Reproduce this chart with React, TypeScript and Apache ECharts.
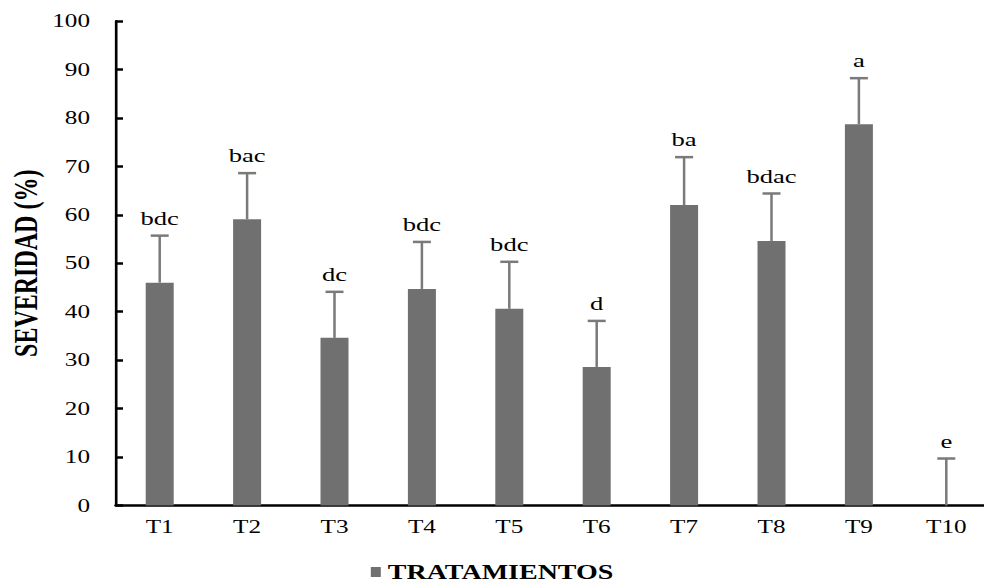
import React, { useEffect, useRef } from 'react';
import * as echarts from 'echarts';

// ---- data ----
const categories = ['T1', 'T2', 'T3', 'T4', 'T5', 'T6', 'T7', 'T8', 'T9', 'T10'];
const severity = [46.0, 59.1, 34.6, 44.7, 40.6, 28.6, 62.0, 54.6, 78.7, 0];
const errorValues = [9.7, 9.5, 9.5, 9.7, 9.7, 9.5, 9.9, 9.8, 9.5, 9.7];
const letters = ['bdc', 'bac', 'dc', 'bdc', 'bdc', 'd', 'ba', 'bdac', 'a', 'e'];
const yMin = 0;
const yMax = 100;
const yInterval = 10;
const seriesName = 'TRATAMIENTOS';
const yTitle = 'SEVERIDAD (%)';

// ---- layout (the reference is stretched horizontally) ----
const PAGE_W = 984;
const PAGE_H = 584;
const STRETCH = 1.4;
const INNER_W = PAGE_W / STRETCH;
const sx = (v: number) => v / STRETCH;

const BAR_COLOR = '#707070';
const ERR_COLOR = '#7a7a7a';
const FONT = '"Liberation Serif", "Times New Roman", serif';

export default function App() {
  const ref = useRef<HTMLDivElement>(null);

  useEffect(() => {
    if (!ref.current) return;
    const chart = echarts.init(ref.current, null, { renderer: 'svg' });
    const capHalf = sx(18) / 2;

    const option: any = {
      animation: false,
      backgroundColor: '#ffffff',
      grid: {
        left: sx(116),
        top: 21,
        width: sx(874),
        height: 484.5,
        containLabel: false,
        outerBoundsMode: 'none',
      },
      legend: {
        data: [seriesName],
        left: 'center',
        top: 562,
        padding: 0,
        icon: 'rect',
        itemWidth: sx(10),
        itemHeight: 10,
        itemGap: 10,
        textStyle: {
          fontFamily: FONT,
          fontWeight: 'bold',
          fontSize: 20,
          lineHeight: 18,
          color: '#000',
        },
      },
      xAxis: {
        type: 'category',
        data: categories,
        axisLine: { show: true, lineStyle: { color: '#000', width: 2.5 } },
        axisTick: { show: false },
        axisLabel: {
          fontFamily: FONT,
          fontSize: 18,
          color: '#000',
          margin: 12,
        },
        splitLine: { show: false },
      },
      yAxis: {
        type: 'value',
        min: yMin,
        max: yMax,
        interval: yInterval,
        name: yTitle,
        nameLocation: 'middle',
        nameRotate: 90,
        nameGap: 52.5,
        nameMoveOverlap: false,
        nameTextStyle: {
          fontFamily: FONT,
          fontWeight: 'bold',
          fontSize: 24,
          color: '#000',
        },
        axisLine: { show: true, lineStyle: { color: '#000', width: 1.9 } },
        axisTick: {
          show: true,
          inside: true,
          length: sx(7),
          lineStyle: { color: '#000', width: 2.5 },
        },
        axisLabel: {
          fontFamily: FONT,
          fontSize: 18,
          color: '#000',
          margin: sx(26),
        },
        splitLine: { show: false },
      },
      series: [
        {
          name: seriesName,
          type: 'bar',
          data: severity,
          barWidth: sx(28),
          itemStyle: { color: BAR_COLOR },
        },
        {
          name: 'error',
          type: 'custom',
          z: 5,
          data: categories.map((_, i) => [i, severity[i], severity[i] + errorValues[i]]),
          renderItem: (params: any, api: any) => {
            const i = api.value(0);
            const base = api.coord([i, api.value(1)]);
            const top = api.coord([i, api.value(2)]);
            return {
              type: 'group',
              children: [
                {
                  type: 'line',
                  shape: { x1: top[0], y1: base[1], x2: top[0], y2: top[1] },
                  style: { stroke: ERR_COLOR, lineWidth: 1.8 },
                },
                {
                  type: 'line',
                  shape: { x1: top[0] - capHalf, y1: top[1], x2: top[0] + capHalf, y2: top[1] },
                  style: { stroke: ERR_COLOR, lineWidth: 2.5 },
                },
                {
                  type: 'text',
                  x: top[0],
                  y: top[1] - 8,
                  style: {
                    text: letters[params.dataIndex],
                    fontFamily: FONT,
                    fontSize: 19,
                    fill: '#000',
                    align: 'center',
                    verticalAlign: 'bottom',
                  },
                },
              ],
            };
          },
        },
      ],
    };

    chart.setOption(option);
    return () => {
      chart.dispose();
    };
  }, []);

  return (
    <div
      style={{
        position: 'fixed',
        left: 0,
        top: 0,
        width: PAGE_W,
        height: PAGE_H,
        overflow: 'hidden',
        background: '#fff',
      }}
    >
      <div
        ref={ref}
        style={{
          width: INNER_W,
          height: PAGE_H,
          transform: `scaleX(${STRETCH})`,
          transformOrigin: '0 0',
        }}
      />
    </div>
  );
}
